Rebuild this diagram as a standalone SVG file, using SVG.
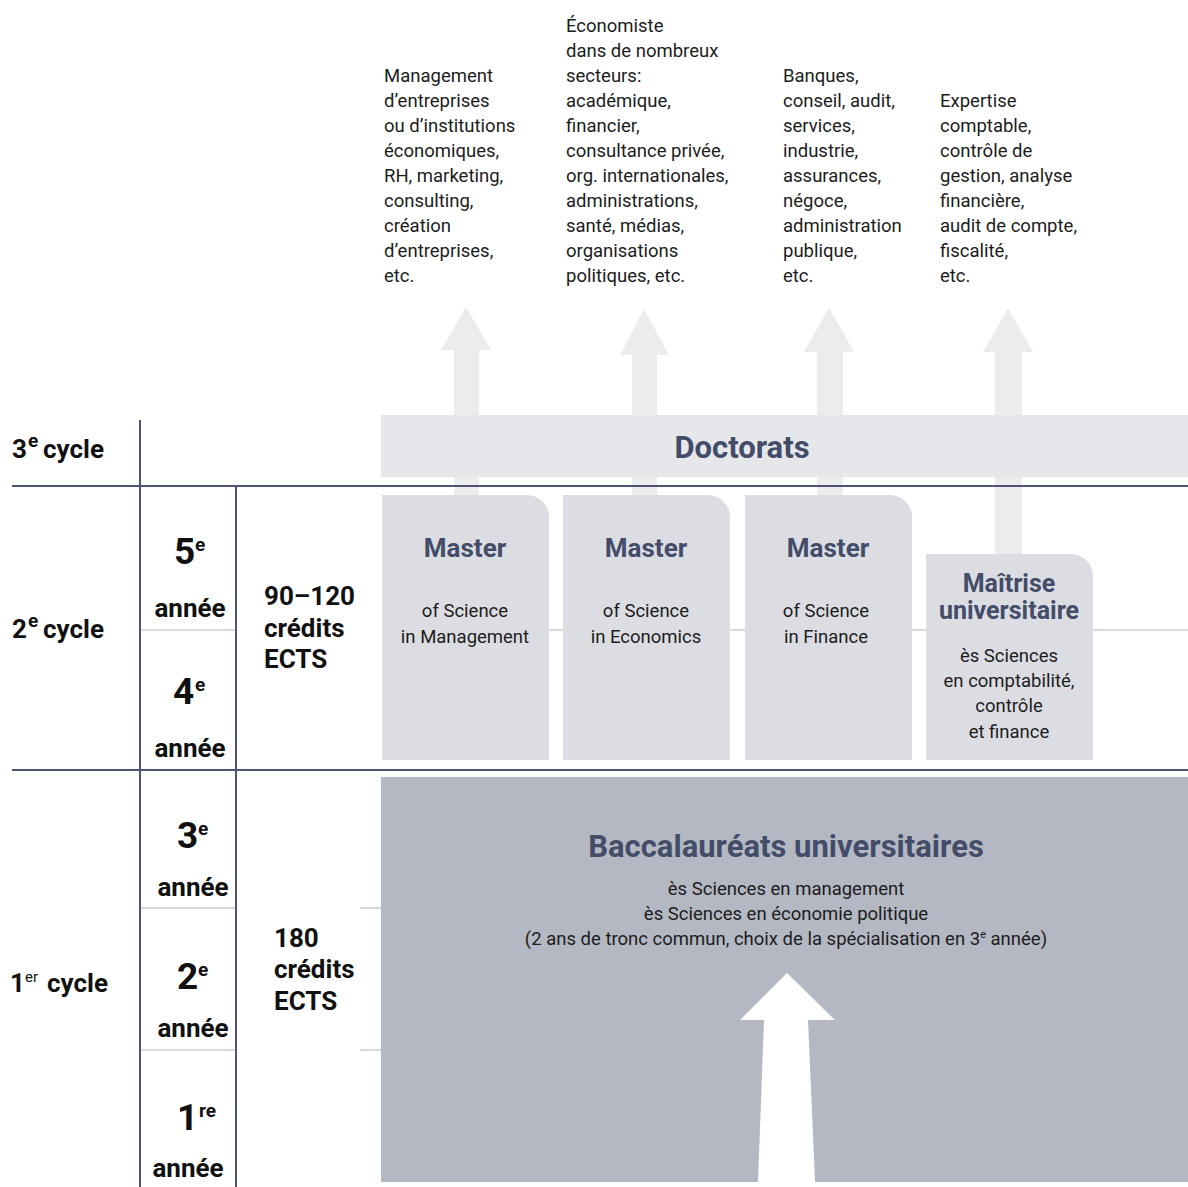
<svg xmlns="http://www.w3.org/2000/svg" width="1188" height="1187" viewBox="0 0 1188 1187">
<style>
  text { font-family: Roboto, "Liberation Sans", sans-serif; }
  .body { font-size: 18.5px; fill: #1c1c1c; }
  .lab { font-size: 26px; font-weight: bold; fill: #111; }
  .num { font-size: 37px; font-weight: bold; fill: #111; }
  .sup { font-size: 19px; font-weight: bold; fill: #111; }
  .title { font-weight: bold; fill: #434c68; text-anchor: middle; }
  .sub { font-size: 18.5px; fill: #1c1c1c; text-anchor: middle; }
  .dark { stroke: #4c5373; stroke-width: 2; fill: none; }
  .light { stroke: #c9ccd4; stroke-width: 1.5; fill: none; }
  .uparrow { fill: #ececec; }
  .mbox { fill: #dcdde2; }
</style>
<rect width="1188" height="1187" fill="#ffffff"/>

<!-- outcome texts -->
<g id="outcome-management">
  <text class="body" x="384" y="82"><tspan x="384">Management</tspan><tspan x="384" dy="25">d’entreprises</tspan><tspan x="384" dy="25">ou d’institutions</tspan><tspan x="384" dy="25">économiques,</tspan><tspan x="384" dy="25">RH, marketing,</tspan><tspan x="384" dy="25">consulting,</tspan><tspan x="384" dy="25">création</tspan><tspan x="384" dy="25">d’entreprises,</tspan><tspan x="384" dy="25">etc.</tspan></text>
</g>
<g id="outcome-economics">
  <text class="body" x="566" y="32"><tspan x="566">Économiste</tspan><tspan x="566" dy="25">dans de nombreux</tspan><tspan x="566" dy="25">secteurs:</tspan><tspan x="566" dy="25">académique,</tspan><tspan x="566" dy="25">financier,</tspan><tspan x="566" dy="25">consultance privée,</tspan><tspan x="566" dy="25">org. internationales,</tspan><tspan x="566" dy="25">administrations,</tspan><tspan x="566" dy="25">santé, médias,</tspan><tspan x="566" dy="25">organisations</tspan><tspan x="566" dy="25">politiques, etc.</tspan></text>
</g>
<g id="outcome-finance">
  <text class="body" x="783" y="82"><tspan x="783">Banques,</tspan><tspan x="783" dy="25">conseil, audit,</tspan><tspan x="783" dy="25">services,</tspan><tspan x="783" dy="25">industrie,</tspan><tspan x="783" dy="25">assurances,</tspan><tspan x="783" dy="25">négoce,</tspan><tspan x="783" dy="25">administration</tspan><tspan x="783" dy="25">publique,</tspan><tspan x="783" dy="25">etc.</tspan></text>
</g>
<g id="outcome-accounting">
  <text class="body" x="940" y="107"><tspan x="940">Expertise</tspan><tspan x="940" dy="25">comptable,</tspan><tspan x="940" dy="25">contrôle de</tspan><tspan x="940" dy="25">gestion, analyse</tspan><tspan x="940" dy="25">financière,</tspan><tspan x="940" dy="25">audit de compte,</tspan><tspan x="940" dy="25">fiscalité,</tspan><tspan x="940" dy="25">etc.</tspan></text>
</g>

<!-- connectors: broad arrows -->
<g id="connectors">
  <polygon class="uparrow" points="466,307 491,350 479,350 479,495 454,495 454,350 441,350"/>
  <polygon class="uparrow" points="644,309 669,355 657,355 657,495 632,495 632,355 620,355"/>
  <polygon class="uparrow" points="829,308 854,352 843,352 843,495 817,495 817,352 804,352"/>
  <polygon class="uparrow" points="1008,308 1033,352 1022,352 1022,555 995,555 995,352 983,352"/>
</g>

<!-- grid lines -->
<g id="grid">
  <line class="light" x1="140" y1="630" x2="236" y2="630"/>
  <line class="light" x1="382" y1="630" x2="1188" y2="630"/>
  <line class="light" x1="140" y1="908" x2="236" y2="908"/>
  <line class="light" x1="360" y1="908" x2="382" y2="908"/>
  <line class="light" x1="140" y1="1050" x2="236" y2="1050"/>
  <line class="light" x1="360" y1="1050" x2="382" y2="1050"/>
  <line class="dark" x1="140" y1="420" x2="140" y2="1187"/>
  <line class="dark" x1="236" y1="486" x2="236" y2="1187"/>
  <line class="dark" x1="12" y1="486" x2="1188" y2="486"/>
  <line class="dark" x1="12" y1="770" x2="1188" y2="770"/>
</g>

<!-- Doctorats -->
<g id="doctorats">
  <rect x="381" y="415" width="807" height="62" fill="#e6e7ea"/>
  <text class="title" x="742" y="458" font-size="31">Doctorats</text>
</g>

<!-- Masters -->
<g id="master-management">
  <path class="mbox" d="M382,495 H527 A22,22 0 0 1 549,517 V760 H382 Z"/>
  <text class="title" x="465" y="557" font-size="26">Master</text>
  <text class="sub" x="465" y="617">of Science</text>
  <text class="sub" x="465" y="643">in Management</text>
</g>
<g id="master-economics">
  <path class="mbox" d="M563,495 H708 A22,22 0 0 1 730,517 V760 H563 Z"/>
  <text class="title" x="646" y="557" font-size="26">Master</text>
  <text class="sub" x="646" y="617">of Science</text>
  <text class="sub" x="646" y="643">in Economics</text>
</g>
<g id="master-finance">
  <path class="mbox" d="M745,495 H890 A22,22 0 0 1 912,517 V760 H745 Z"/>
  <text class="title" x="828" y="557" font-size="26">Master</text>
  <text class="sub" x="826" y="617">of Science</text>
  <text class="sub" x="826" y="643">in Finance</text>
</g>
<g id="maitrise">
  <path class="mbox" d="M926,554 H1071 A22,22 0 0 1 1093,576 V760 H926 Z"/>
  <text class="title" x="1009" y="592" font-size="25">Maîtrise</text>
  <text class="title" x="1009" y="619" font-size="25">universitaire</text>
  <text class="sub" x="1009" y="662">ès Sciences</text>
  <text class="sub" x="1009" y="687">en comptabilité,</text>
  <text class="sub" x="1009" y="712">contrôle</text>
  <text class="sub" x="1009" y="738">et finance</text>
</g>

<!-- Bachelor -->
<g id="baccalaureats">
  <rect x="381" y="777" width="807" height="405" fill="#b4b8c3"/>
  <text class="title" x="786" y="857" font-size="31">Baccalauréats universitaires</text>
  <text class="sub" x="786" y="895">ès Sciences en management</text>
  <text class="sub" x="786" y="920">ès Sciences en économie politique</text>
  <text class="sub" x="786" y="945">(2 ans de tronc commun, choix de la spécialisation en 3<tspan font-size="11" dy="-7">e</tspan><tspan dy="7"> année)</tspan></text>
  <polygon fill="#ffffff" points="787,973 835,1020 808,1020 815,1182 758,1182 764,1020 740,1020"/>
</g>

<!-- Left labels -->
<g id="cycle-labels">
  <text class="lab" x="12" y="458">3<tspan class="sup" font-size="17" x="28" dy="-11">e</tspan><tspan x="43" dy="11">cycle</tspan></text>
  <text class="lab" x="12" y="638">2<tspan class="sup" font-size="17" x="28" dy="-11">e</tspan><tspan x="43" dy="11">cycle</tspan></text>
  <text class="lab" x="10" y="992">1<tspan font-size="15" font-weight="normal" x="25" dy="-10">er</tspan><tspan x="47" dy="10">cycle</tspan></text>
</g>
<g id="year-labels">
  <text class="num" x="174" y="564">5<tspan class="sup" x="195" dy="-13">e</tspan></text>
  <text class="lab" x="190" y="617" text-anchor="middle">année</text>
  <text class="num" x="173" y="704">4<tspan class="sup" x="195" dy="-13">e</tspan></text>
  <text class="lab" x="190" y="757" text-anchor="middle">année</text>
  <text class="num" x="177" y="848">3<tspan class="sup" x="198" dy="-13">e</tspan></text>
  <text class="lab" x="193" y="896" text-anchor="middle">année</text>
  <text class="num" x="177" y="989">2<tspan class="sup" x="198" dy="-13">e</tspan></text>
  <text class="lab" x="193" y="1037" text-anchor="middle">année</text>
  <text class="num" x="177" y="1130">1<tspan class="sup" x="199" dy="-13">re</tspan></text>
  <text class="lab" x="188" y="1177" text-anchor="middle">année</text>
</g>
<g id="credits">
  <text class="lab" font-size="27" x="264" y="605"><tspan x="264">90–120</tspan><tspan x="264" dy="32">crédits</tspan><tspan x="264" dy="31">ECTS</tspan></text>
  <text class="lab" font-size="27" x="274" y="947"><tspan x="274">180</tspan><tspan x="274" dy="31">crédits</tspan><tspan x="274" dy="32">ECTS</tspan></text>
</g>
</svg>
